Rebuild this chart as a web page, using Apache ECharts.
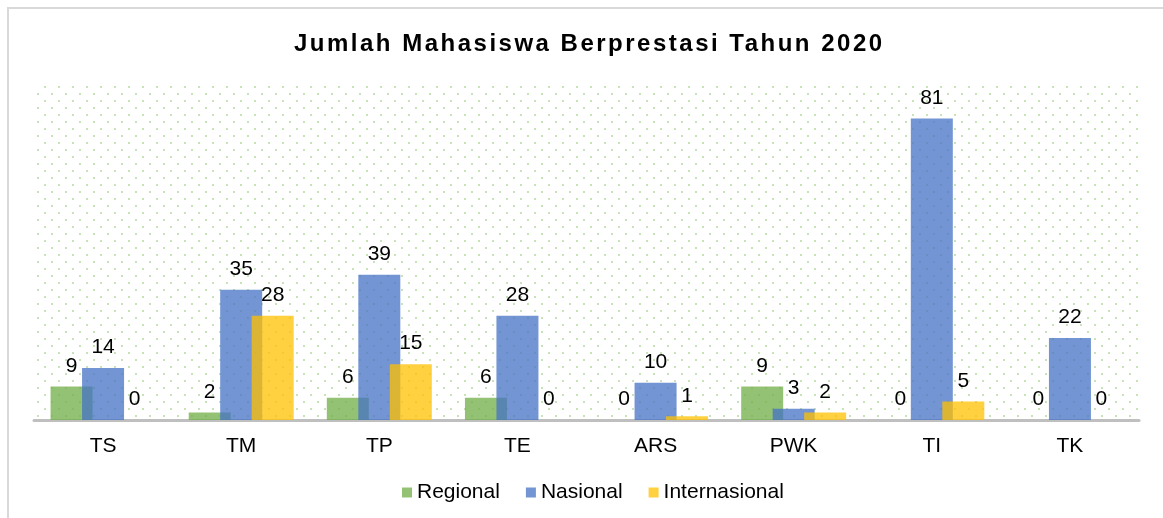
<!DOCTYPE html>
<html>
<head>
<meta charset="utf-8">
<script src="https://cdn.jsdelivr.net/npm/echarts@6/dist/echarts.min.js"></script>
<style>
html,body{margin:0;padding:0;background:#fff;}
#chart{width:1163px;height:518px;}
</style>
</head>
<body>
<div id="chart"></div>
<script>
const categories = ['TS','TM','TP','TE','ARS','PWK','TI','TK'];
const regional = [9, 2, 6, 6, 0, 9, 0, 0];
const nasional = [14, 35, 39, 28, 10, 3, 81, 22];
const internasional = [0, 28, 15, 0, 1, 2, 5, 0];
const seriesNames = ['Regional','Nasional','Internasional'];
const titleText = 'Jumlah Mahasiswa Berprestasi Tahun 2020';

// title is letter-spaced in the original: apply canvas letterSpacing to the title font only
(function(){
  const P = CanvasRenderingContext2D.prototype;
  if (!('letterSpacing' in P)) return;
  const wrap = function(name){
    const orig = P[name];
    P[name] = function(){
      this.letterSpacing = (this.font && this.font.indexOf('Arial') >= 0) ? '2.5px' : '0px';
      return orig.apply(this, arguments);
    };
  };
  wrap('fillText'); wrap('measureText');
})();

// dotted background pattern
const tile = document.createElement('canvas');
tile.width = 14; tile.height = 14;
const tctx = tile.getContext('2d');
tctx.fillStyle = '#c9e3b8';
tctx.fillRect(2, 2, 2, 2);
tctx.fillRect(9, 9, 2, 2);

const chart = echarts.init(document.getElementById('chart'), null, {renderer:'canvas'});
const font = 'Liberation Sans, sans-serif';
const colors = ['rgba(112,173,71,0.75)','rgba(68,114,196,0.75)','rgba(255,192,0,0.75)'];
const dataSets = [regional, nasional, internasional];

chart.setOption({
  animation:false,
  backgroundColor:'#fff',
  color: colors,
  title:{
    text: titleText,
    left:289, top:26,
    textStyle:{fontFamily:'Arial', fontWeight:'bold', fontSize:24, color:'#000'}
  },
  legend:{
    data: seriesNames,
    bottom: 10, left:397,
    itemWidth:10, itemHeight:10, itemGap:26,
    icon:'rect',
    textStyle:{fontFamily:font, fontSize:21, color:'#000'}
  },
  grid:{
    left:34, right:24, top:85, bottom:98,
    show:true, borderWidth:0,
    backgroundColor:{image: tile, repeat:'repeat'}
  },
  xAxis:{
    type:'category', data:categories,
    axisLine:{lineStyle:{color:'#bfbfbf', width:3}},
    axisTick:{show:false},
    axisLabel:{fontFamily:font, fontSize:21, color:'#000', margin:16}
  },
  yAxis:{
    type:'value', min:0, max:90, show:false,
    splitLine:{show:false}
  },
  graphic:[{
    type:'rect', shape:{x:8, y:8, width:1200, height:600},
    style:{fill:'none', stroke:'#d9d9d9', lineWidth:2}, z:100, silent:true
  }],
  series: seriesNames.map((n,i)=>({
    name:n, type:'bar', data:dataSets[i],
    barWidth:42, barGap:'-25%',
    itemStyle:{color:colors[i]},
    label:{show:true, position:'top', distance:10, fontFamily:font, fontSize:21, color:'#000'}
  }))
});
</script>
</body>
</html>
